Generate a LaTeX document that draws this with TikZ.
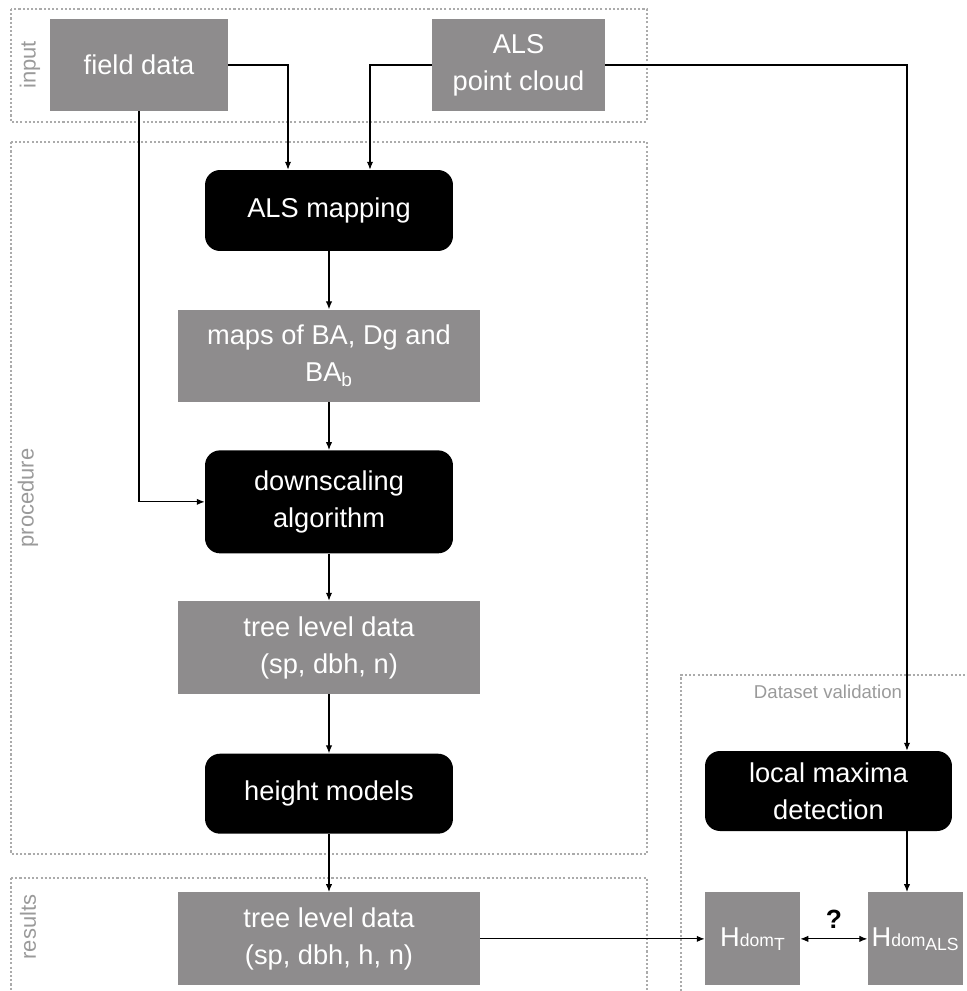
\documentclass[tikz,border=0pt]{standalone}
\usepackage{fontspec}
\setmainfont{Liberation Sans}
\usepackage{xcolor}
\usetikzlibrary{arrows.meta,positioning}

\definecolor{boxgray}{HTML}{8E8C8D}
\definecolor{labelgray}{HTML}{9A9A9A}
\definecolor{framegray}{HTML}{ABABAB}

\begin{document}
\begin{tikzpicture}[
  x=0.02cm, y=-0.02cm,
  databox/.style={rectangle, fill=boxgray, text=white, align=center, inner sep=2pt,
                  font=\fontsize{15.5}{21}\selectfont},
  procbox/.style={rectangle, fill=black, text=white, align=center, inner sep=2pt,
                  rounded corners=0.3cm, minimum width=4.96cm,
                  font=\fontsize{15.5}{21}\selectfont},
  frame/.style={draw=framegray, line width=0.6pt, dash pattern=on 1.2pt off 1.2pt},
  sidelabel/.style={rotate=90, text=labelgray, font=\fontsize{12.5}{14}\selectfont},
  arr/.style={-{Latex[length=4.5pt,width=3.6pt]}, line width=0.6pt},
]
\useasboundingbox (0,0) rectangle (967,991);

% Frames
\draw[frame] (11,9) rectangle (647,122);
\draw[frame] (11,142) rectangle (647,854);
\draw[frame] (11,878) -- (11,1000) (11,878) -- (647,878) -- (647,1000);
\draw[frame] (681,1000) -- (681,675) -- (980,675);

\node[sidelabel] (lin) at (30,65) {input};
\node[sidelabel] (lproc) at (28,498) {procedure};
\node[sidelabel] (lres) at (28,927) {results};
\node[text=labelgray, font=\fontsize{10.6}{12}\selectfont] (lval) at (828,692) {Dataset validation};

% Inputs
\node[databox, minimum width=3.56cm, minimum height=1.84cm] (field) at (139,65) {field data};
\node[databox, minimum width=3.46cm, minimum height=1.84cm] (alspc) at (518.5,65) {ALS\\point cloud};

% Procedure column
\node[procbox, minimum height=1.62cm] (alsmap) at (329,210.5) {ALS mapping};
\node[databox, minimum width=6.04cm, minimum height=1.84cm, below=1.16cm of alsmap] (maps) {maps of BA, Dg and\\BA\textsubscript{b}};
\node[procbox, minimum height=2.06cm, below=0.96cm of maps] (downsc) {downscaling\\algorithm};
\node[databox, minimum width=6.04cm, minimum height=1.86cm, below=0.94cm of downsc] (tld) {tree level data\\(sp, dbh, n)};
\node[procbox, minimum height=1.6cm, below=1.18cm of tld] (hmod) {height models};
\node[databox, minimum width=6.04cm, minimum height=1.86cm, below=1.16cm of hmod] (tldr) {tree level data\\(sp, dbh, h, n)};

% Validation
\coordinate (hcol) at (752.5,0);
\node[procbox, minimum width=4.94cm, minimum height=1.6cm] (lmd) at (828.5,791) {local maxima\\detection};
\node[databox, minimum width=1.9cm, minimum height=1.86cm] (hdomt) at (tldr -| hcol)
  {H{\fontsize{10}{10}\selectfont dom\raisebox{-0.45ex}{T}}};
\node[databox, minimum width=1.9cm, minimum height=1.86cm, right=1.34cm of hdomt] (hdomals)
  {H{\fontsize{10}{10}\selectfont dom\raisebox{-0.45ex}{ALS}}};

% Flow
\draw[arr] (field.east) -| ([xshift=-0.82cm]alsmap.north);
\draw[arr] (alspc.west) -| ([xshift=0.82cm]alsmap.north);
\draw[arr] (alspc.east) -| ([xshift=1.57cm]lmd.north);
\draw[arr] (field.south) |- (downsc.west);
\draw[arr] (alsmap) -- (maps);
\draw[arr] (maps) -- (downsc);
\draw[arr] (downsc) -- (tld);
\draw[arr] (tld) -- (hmod);
\draw[arr] (hmod) -- (tldr);
\draw[arr] (tldr.east) -- (hdomt.west);
\draw[arr] ([xshift=1.57cm]lmd.south) -- ([xshift=1.57cm]lmd.south |- hdomals.north);
\draw[arr, {Latex[length=4.5pt,width=3.6pt]}-{Latex[length=4.5pt,width=3.6pt]}]
  (hdomt.east) -- node[above=2pt, font=\fontsize{15}{15}\selectfont\bfseries] (q) {?} (hdomals.west);

\end{tikzpicture}
\end{document}
